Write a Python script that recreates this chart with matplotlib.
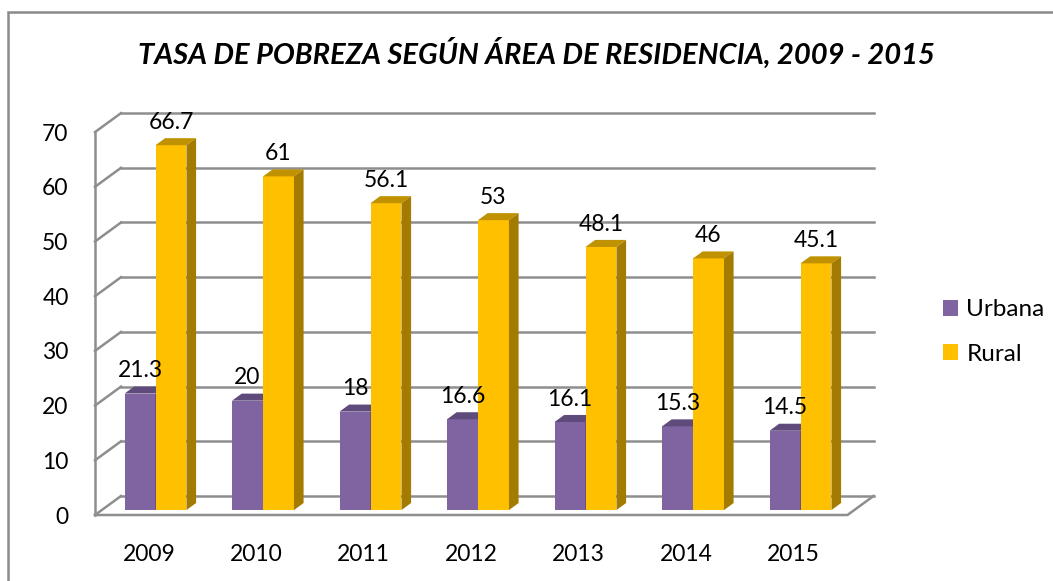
import numpy as np
import matplotlib.pyplot as plt
from matplotlib.patches import Polygon, Rectangle, Patch

# --- dane ---
years = ['2009', '2010', '2011', '2012', '2013', '2014', '2015']
urbana = [21.3, 20, 18, 16.6, 16.1, 15.3, 14.5]
rural = [66.7, 61, 56.1, 53, 48.1, 46, 45.1]
y_ticks = [0, 10, 20, 30, 40, 50, 60, 70]
title = 'TASA DE POBREZA SEGÚN ÁREA DE RESIDENCIA, 2009 - 2015'

plt.rcParams['font.family'] = ['Lato', 'DejaVu Sans']

W, H = 1053, 581
fig = plt.figure(figsize=(W / 100, H / 100), dpi=100)

# obramowanie wykresu (widoczne tylko z lewej i u góry)
fig.patches.append(Rectangle((8 / W, -0.2), 1.2, 1.2 - 12 / H,
                             transform=fig.transFigure, fill=False,
                             edgecolor='#8a8a8a', linewidth=1.8))

# osie: x w kategoriach, y w wartościach (płaszczyzna przednia)
px_per_cat = 107.5
px_per_val = 5.47
ax_left, ax_bottom = 95, 515
ax = fig.add_axes([ax_left / W, (H - ax_bottom) / H,
                   7 * px_per_cat / W, 75 * px_per_val / H])
ax.set_xlim(-0.5, 6.5)
ax.set_ylim(0, 75)
for s in ax.spines.values():
    s.set_visible(False)
ax.patch.set_alpha(0)

# głębokość ścian i słupków
dx, dy = 26 / px_per_cat, 19 / px_per_val
f_front, f_depth = 0.26, 0.37
bw = 0.288

grid_c = '#8e8e8e'
lw = 1.8
x0, x1 = -0.5, 6.5
for v in y_ticks:
    ax.plot([x0 + dx, x1 + dx], [v + dy, v + dy], color=grid_c, lw=lw, clip_on=False, zorder=1)
    ax.plot([x0, x0 + dx], [v, v + dy], color=grid_c, lw=lw, clip_on=False, zorder=1)
ax.plot([x0, x0], [0, y_ticks[-1]], color=grid_c, lw=lw, clip_on=False, zorder=1)
ax.plot([x0, x1, x1 + dx], [0, 0, dy], color=grid_c, lw=lw, clip_on=False, zorder=1)


def bar3d(left, val, front, top, side, z):
    sx, sy = f_front * dx, f_front * dy
    ddx, ddy = f_depth * dx, f_depth * dy
    l, r = left + sx, left + bw + sx
    b, t = sy, val + sy
    ax.add_patch(Polygon([(l, b), (r, b), (r, t), (l, t)], closed=True,
                         facecolor=front, edgecolor='none', clip_on=False, zorder=z))
    ax.add_patch(Polygon([(l, t), (r, t), (r + ddx, t + ddy), (l + ddx, t + ddy)], closed=True,
                         facecolor=top, edgecolor='none', clip_on=False, zorder=z))
    ax.add_patch(Polygon([(r, b), (r + ddx, b + ddy), (r + ddx, t + ddy), (r, t)], closed=True,
                         facecolor=side, edgecolor='none', clip_on=False, zorder=z))
    return (l + r) / 2, t


label_fs = 16.5
for i in range(len(years)):
    cx, ty = bar3d(i - bw, urbana[i], '#8064a2', '#5f4a7c', '#4f3d66', 2 + i * 2)
    ax.text(cx, ty + 3.0, f'{urbana[i]:g}', ha='center', va='baseline',
            fontsize=label_fs, color='black', zorder=30)
    cx, ty = bar3d(i, rural[i], '#ffc000', '#c09100', '#a37b00', 3 + i * 2)
    ax.text(cx, ty + 3.0, f'{rural[i]:g}', ha='center', va='baseline',
            fontsize=label_fs, color='black', zorder=30)

ax.set_yticks(y_ticks)
ax.set_yticklabels([str(v) for v in y_ticks], fontsize=label_fs)
ax.set_xticks(range(len(years)))
ax.set_xticklabels(years, fontsize=label_fs)
ax.tick_params(axis='y', length=0, pad=19)
ax.tick_params(axis='x', length=0, pad=21)

fig.text(536 / W, 1 - 53 / H, title, ha='center', va='center',
         fontsize=21, fontweight='bold', fontstyle='italic')

handles = [Patch(facecolor='#8064a2', label='Urbana'),
           Patch(facecolor='#ffc000', label='Rural')]
fig.legend(handles=handles, loc='center left', bbox_to_anchor=(933 / W, 1 - 332 / H),
           frameon=False, fontsize=17.5, handlelength=0.62, handleheight=0.62,
           handletextpad=0.35, labelspacing=0.95, borderaxespad=0)

fig.savefig('out.png', dpi=100)
